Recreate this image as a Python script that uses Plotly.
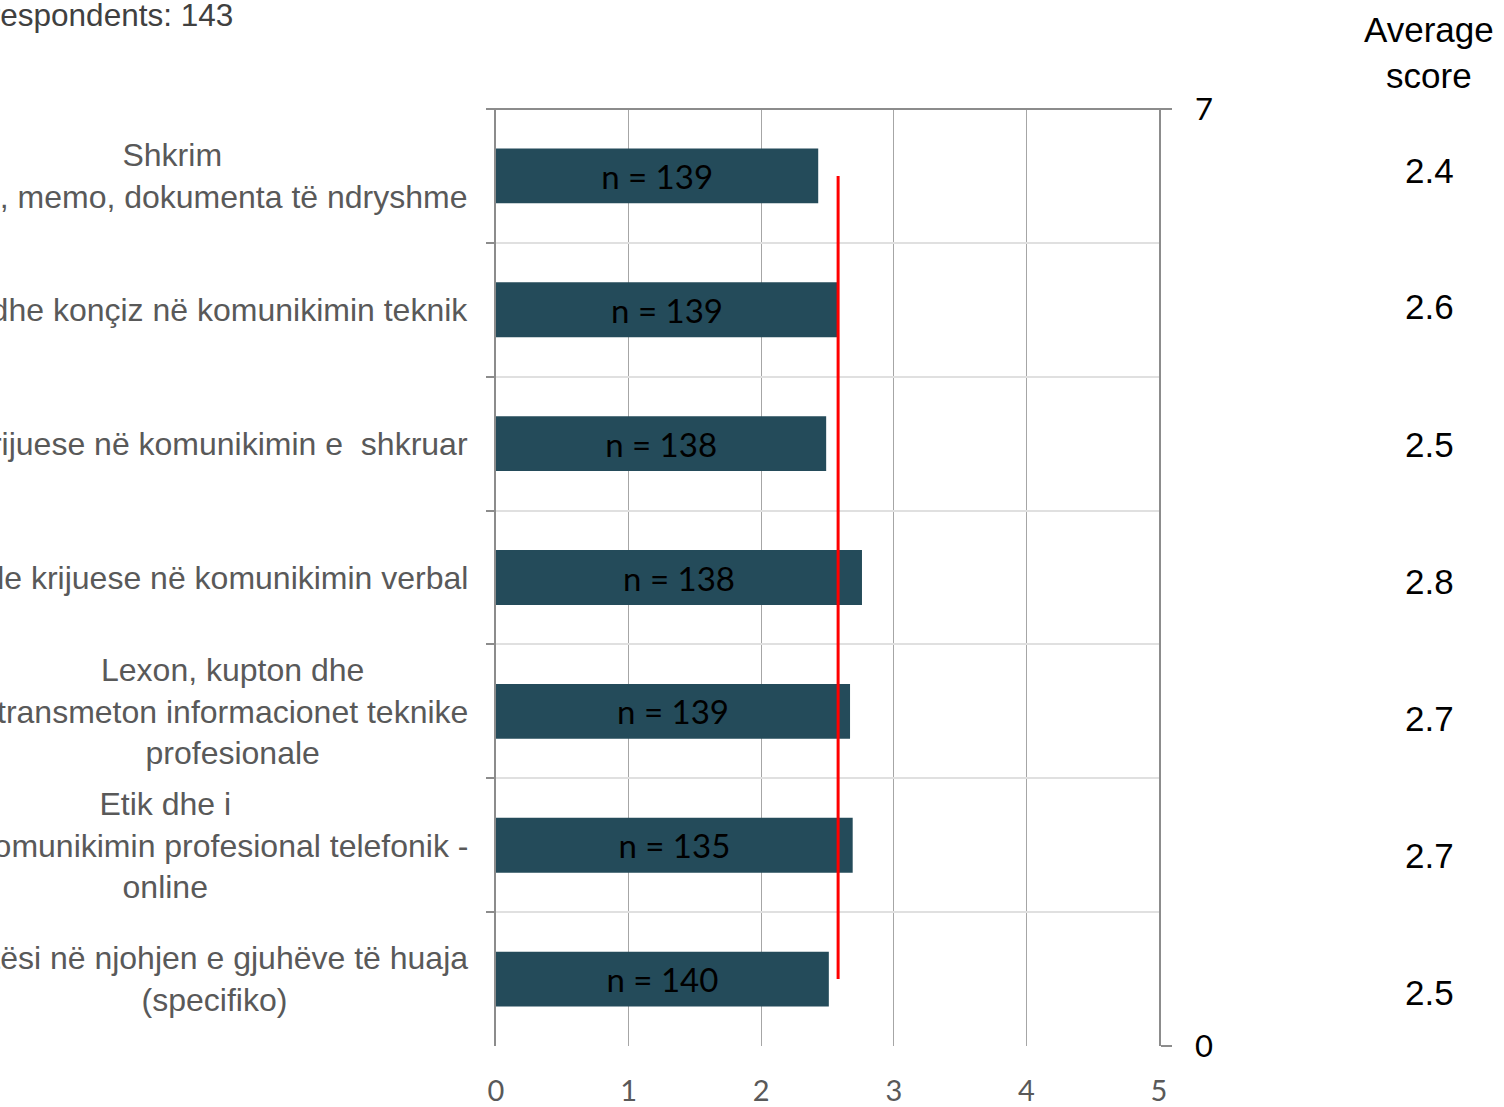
import plotly.graph_objects as go

# ---- data ----
categories = [
    "Shkrim<br>Raportet, memo, dokumenta të ndryshme",
    "I qartë dhe konçiz në komunikimin teknik",
    "Aftësi krijuese në komunikimin e  shkruar",
    "Me ide krijuese në komunikimin verbal",
    "Lexon, kupton dhe<br>transmeton informacionet teknike<br>profesionale",
    "Etik dhe i<br>mirë në komunikimin profesional telefonik -<br>online",
    "Aftësi në njohjen e gjuhëve të huaja<br>(specifiko)",
]
scores = [2.43, 2.58, 2.49, 2.76, 2.67, 2.69, 2.51]
counts = [139, 139, 138, 138, 139, 135, 140]
avg_labels = ["2.4", "2.6", "2.5", "2.8", "2.7", "2.7", "2.5"]
overall_avg = 2.58
x_ticks = [0, 1, 2, 3, 4, 5]
y2_ticks = [0, 7]
respondents_text = "Number of respondents: 143"

W, H = 1504, 1107
L, R, T, B = 496, 1159, 109, 1046
pw, ph = R - L, B - T

BAR = "#244B5A"
ARIAL = "Liberation Sans, Arial, sans-serif"
CAL = "Lato, Carlito, sans-serif"

fig = go.Figure()
fig.add_trace(go.Bar(
    y=categories, x=scores, orientation="h",
    marker=dict(color=BAR, line=dict(width=0)),
    text=[f"n = {c}" for c in counts],
    textposition="inside", insidetextanchor="middle",
    textfont=dict(family=CAL, size=33, color="#000000"),
    constraintext="none", textangle=0,
    hoverinfo="skip", showlegend=False,
))
fig.add_trace(go.Scatter(
    x=[overall_avg, overall_avg], y=[0.5, 6.5], yaxis="y2",
    mode="lines", line=dict(color="#FF0000", width=3),
    hoverinfo="skip", showlegend=False,
))

ann = []
for c in categories:
    ann.append(dict(
        xref="paper", yref="y", x=0, y=c, xshift=-26,
        xanchor="right", yanchor="middle", align="center",
        text=c, showarrow=False,
        font=dict(family=ARIAL, size=32, color="#595959"),
    ))
sx = (1429 - L) / pw
for i, a in enumerate(avg_labels):
    ypix = 170 + 137 * i
    ann.append(dict(
        xref="paper", yref="paper", x=sx, y=(B - ypix) / ph,
        xanchor="center", yanchor="middle", text=a, showarrow=False,
        font=dict(family=ARIAL, size=35, color="#000000"),
    ))
ann.append(dict(
    xref="paper", yref="paper", x=sx, y=(B - 52) / ph,
    xanchor="center", yanchor="middle", align="center",
    text="Average<br>score", showarrow=False,
    font=dict(family=ARIAL, size=35, color="#000000"),
))
ann.append(dict(
    xref="paper", yref="paper", x=(235 - L) / pw, y=(B - 15) / ph,
    xanchor="right", yanchor="middle", text=respondents_text, showarrow=False,
    font=dict(family=ARIAL, size=31.5, color="#404040"),
))

fig.update_layout(
    width=W, height=H,
    margin=dict(l=L, r=W - R, t=T, b=H - B, pad=0, autoexpand=False),
    paper_bgcolor="white", plot_bgcolor="white",
    bargap=0.59,
    annotations=ann,
    xaxis=dict(
        range=[0, 5], tickvals=x_ticks, showgrid=True, automargin=False,
        gridcolor="#A6A6A6", gridwidth=1.3, zeroline=False,
        showline=False, ticks="", ticklabelstandoff=25,
        tickfont=dict(family=CAL, size=29, color="#595959"),
    ),
    yaxis=dict(
        type="category", categoryorder="array", categoryarray=categories,
        range=[6.5, -0.5], tickson="boundaries", automargin=False,
        showgrid=True, gridcolor="#E0E0E0", gridwidth=2,
        showticklabels=False, ticks="outside", ticklen=8,
        tickcolor="#8C8C8C", tickwidth=1.5,
        showline=True, linecolor="#8C8C8C", linewidth=1.5,
        zeroline=False,
    ),
    yaxis2=dict(
        overlaying="y", side="right", range=[0, 7], tickvals=y2_ticks,
        showgrid=False, zeroline=False, showline=True, automargin=False,
        linecolor="#8C8C8C", linewidth=1.5,
        ticks="outside", ticklen=11, tickcolor="#8C8C8C", tickwidth=1.5,
        ticklabelstandoff=17,
        tickfont=dict(family=CAL, size=31, color="#000000"),
    ),
    shapes=[dict(
        type="line", xref="paper", yref="paper", x0=-0.012, x1=1.017,
        y0=1, y1=1, line=dict(color="#8C8C8C", width=2), layer="above",
    )],
)

fig.write_html(
    "out.html",
    config={"displayModeBar": False},
    post_script="document.body.style.margin='0';",
)
